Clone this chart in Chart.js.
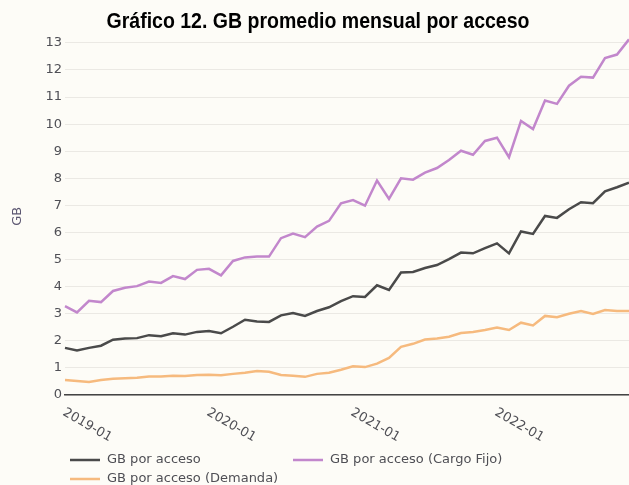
<!DOCTYPE html>
<html lang="es">
<head>
<meta charset="utf-8">
<title>GB promedio mensual por acceso</title>
<script src="https://cdn.jsdelivr.net/npm/chart.js@4.4.1/dist/chart.umd.min.js"></script>
<style>
  html, body { margin: 0; padding: 0; background: #fdfcf7; }
  #wrap { width: 629px; height: 485px; }
</style>
</head>
<body>
<div id="wrap"><canvas id="gbChart" width="629" height="485"></canvas></div>
<script>
const months = [
  "2019-01", "2019-02", "2019-03", "2019-04", "2019-05", "2019-06", "2019-07", "2019-08", "2019-09", "2019-10", "2019-11", "2019-12",
  "2020-01", "2020-02", "2020-03", "2020-04", "2020-05", "2020-06", "2020-07", "2020-08", "2020-09", "2020-10", "2020-11", "2020-12",
  "2021-01", "2021-02", "2021-03", "2021-04", "2021-05", "2021-06", "2021-07", "2021-08", "2021-09", "2021-10", "2021-11", "2021-12",
  "2022-01", "2022-02", "2022-03", "2022-04", "2022-05", "2022-06", "2022-07", "2022-08", "2022-09", "2022-10", "2022-11", "2022-12",
];
const tickLabels = ["2019-01", "2020-01", "2021-01", "2022-01"];
const yTicks = [0, 1, 2, 3, 4, 5, 6, 7, 8, 9, 10, 11, 12, 13];

const gbAcceso = [
  1.74, 1.64, 1.74, 1.82, 2.04, 2.09, 2.10, 2.21, 2.17, 2.28, 2.23, 2.33,
  2.36, 2.28, 2.52, 2.78, 2.71, 2.70, 2.94, 3.03, 2.92, 3.10, 3.24, 3.47,
  3.65, 3.62, 4.05, 3.88, 4.52, 4.54, 4.69, 4.80, 5.02, 5.26, 5.23, 5.42,
  5.60, 5.23, 6.04, 5.95, 6.61, 6.54, 6.86, 7.12, 7.08, 7.52, 7.67, 7.84,
];
const gbCargoFijo = [
  3.28, 3.05, 3.48, 3.43, 3.84, 3.96, 4.02, 4.19, 4.14, 4.39, 4.28, 4.62,
  4.66, 4.42, 4.95, 5.08, 5.11, 5.11, 5.79, 5.96, 5.83, 6.22, 6.43, 7.08,
  7.20, 6.99, 7.92, 7.24, 8.00, 7.95, 8.21, 8.38, 8.68, 9.02, 8.87, 9.38,
  9.50, 8.78, 10.12, 9.82, 10.87, 10.75, 11.42, 11.75, 11.72, 12.44, 12.57, 13.13,
];
const gbDemanda = [
  0.55, 0.52, 0.48, 0.55, 0.60, 0.62, 0.64, 0.68, 0.68, 0.71, 0.70, 0.74,
  0.75, 0.73, 0.78, 0.82, 0.89, 0.86, 0.74, 0.71, 0.67, 0.78, 0.82, 0.93,
  1.06, 1.03, 1.16, 1.37, 1.78, 1.89, 2.05, 2.09, 2.15, 2.29, 2.33, 2.40,
  2.49, 2.40, 2.67, 2.57, 2.92, 2.87, 3.00, 3.10, 2.99, 3.14, 3.10, 3.10,
];

const seriesNames = ["GB por acceso", "GB por acceso (Cargo Fijo)", "GB por acceso (Demanda)"];
const seriesColors = ["#4a4a4a", "#c287cc", "#f6ba7e"];
const chartTitle = "Gráfico 12. GB promedio mensual por acceso";

const BG = "#fdfcf7";
const TEXT = "#4f4f55";
const FONT = "'DejaVu Sans', sans-serif";

// background, title (squeezed to look like a narrow bold face), rotated x labels, legend
const decorPlugin = {
  id: "decor",
  beforeDraw(chart) {
    const ctx = chart.ctx;
    ctx.save();
    ctx.fillStyle = BG;
    ctx.fillRect(0, 0, chart.width, chart.height);
    ctx.restore();
  },
  afterDraw(chart) {
    const ctx = chart.ctx;
    const xScale = chart.scales.x;
    const bottom = chart.chartArea.bottom;
    ctx.save();

    ctx.font = "bold 22px 'Liberation Sans', Arial, sans-serif";
    ctx.fillStyle = "#000";
    ctx.textAlign = "center";
    ctx.textBaseline = "middle";
    const w = ctx.measureText(chartTitle).width;
    const sx = 423 / w;
    ctx.save();
    ctx.translate(318, 22);
    ctx.scale(sx, 1);
    ctx.fillText(chartTitle, 0, 0);
    ctx.restore();

    ctx.font = "13px " + FONT;
    ctx.fillStyle = TEXT;
    ctx.textAlign = "left";
    ctx.textBaseline = "top";
    tickLabels.forEach((label) => {
      const x = xScale.getPixelForValue(months.indexOf(label));
      ctx.save();
      ctx.translate(x + 2, bottom + 11);
      ctx.rotate(Math.PI / 6);
      ctx.fillText(label, 0, 0);
      ctx.restore();
    });

    const legendItems = [
      { x: 70, y: 460 },
      { x: 293, y: 460 },
      { x: 70, y: 479 },
    ];
    ctx.textBaseline = "middle";
    legendItems.forEach((item, i) => {
      ctx.strokeStyle = seriesColors[i];
      ctx.lineWidth = 2.5;
      ctx.beginPath();
      ctx.moveTo(item.x, item.y);
      ctx.lineTo(item.x + 30, item.y);
      ctx.stroke();
      ctx.fillStyle = TEXT;
      ctx.fillText(seriesNames[i], item.x + 37, item.y);
    });
    ctx.restore();
  },
};

function makeDataset(idx, values) {
  return {
    label: seriesNames[idx],
    data: values,
    borderColor: seriesColors[idx],
    backgroundColor: seriesColors[idx],
    borderWidth: 2.5,
    pointRadius: 0,
    tension: 0,
    fill: false,
  };
}

new Chart(document.getElementById("gbChart"), {
  type: "line",
  data: {
    labels: months,
    datasets: [
      makeDataset(2, gbDemanda),
      makeDataset(1, gbCargoFijo),
      makeDataset(0, gbAcceso),
    ],
  },
  options: {
    responsive: false,
    animation: false,
    layout: { padding: { left: 0, right: 0, top: 37.5, bottom: 0 } },
    plugins: {
      legend: { display: false },
      tooltip: { enabled: false },
      title: { display: false },
    },
    scales: {
      x: {
        type: "category",
        offset: false,
        grid: { display: false },
        border: { display: true, color: "#444", width: 1.5 },
        ticks: { display: false },
        afterFit(scale) {
          scale.height = 90;
        },
      },
      y: {
        min: 0,
        max: 13.2,
        grid: { color: "#ebe9e4", lineWidth: 1, drawTicks: false },
        border: { display: false },
        ticks: {
          padding: 3,
          color: TEXT,
          font: { family: FONT, size: 13 },
        },
        title: {
          display: true,
          text: "GB",
          color: "#5a5570",
          font: { family: FONT, size: 13 },
          padding: { top: 10, bottom: 0 },
        },
        afterBuildTicks(scale) {
          scale.ticks = yTicks.map((v) => ({ value: v }));
        },
        afterFit(scale) {
          scale.width = 65;
        },
      },
    },
  },
  plugins: [decorPlugin],
});
</script>
</body>
</html>
